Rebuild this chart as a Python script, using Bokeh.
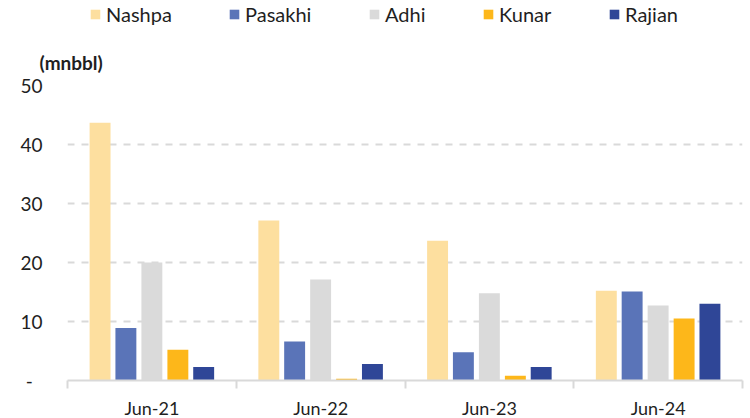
from bokeh.plotting import figure
from bokeh.layouts import column
from bokeh.models import (Range1d, FixedTicker, Legend, LegendItem, Title, ColumnDataSource)
from bokeh.embed import file_html
from bokeh.resources import INLINE

# ---- data ----
periods = ["Jun-21", "Jun-22", "Jun-23", "Jun-24"]
series = ["Nashpa", "Pasakhi", "Adhi", "Kunar", "Rajian"]
nashpa = [43.7, 27.1, 23.7, 15.2]
pasakhi = [8.9, 6.6, 4.8, 15.1]
adhi = [20.0, 17.1, 14.8, 12.7]
kunar = [5.2, 0.3, 0.8, 10.5]
rajian = [2.3, 2.8, 2.3, 13.0]
y_ticks = [0, 10, 20, 30, 40, 50]
unit = "(mnbbl)"

values = [nashpa, pasakhi, adhi, kunar, rajian]
colors = ["#FDDF9F", "#5A74B8", "#DADADA", "#FDB71A", "#2F4697"]
offsets = [-0.307, -0.154, 0.0, 0.154, 0.307]
bar_w = 0.124

FONT = "Lato"
TXT = "#1f1f1f"
HEAD_H = 36

# ---------- header (legend) ----------
h = figure(width=750, height=HEAD_H, x_range=Range1d(67, 742), y_range=Range1d(HEAD_H, 0),
           output_backend="svg", toolbar_location=None,
           x_axis_location=None, y_axis_location=None,
           min_border_left=67, min_border_right=8, min_border_top=0, min_border_bottom=0)
h.outline_line_color = None
h.grid.visible = False
h.border_fill_color = "white"
h.background_fill_color = "white"

leg_x = [89, 228, 368, 482, 608]
for name, col, lx in zip(series, colors, leg_x):
    # off-screen swatch holder for the legend entry
    rr = h.vbar(x=[-1000], top=[0], width=1, fill_color=col, line_color=None)
    lg = Legend(items=[LegendItem(label=name, renderers=[rr])], location=(lx - 67, HEAD_H - 26),
                orientation="horizontal", glyph_width=12, glyph_height=12,
                label_standoff=5, padding=0, margin=0, spacing=0,
                border_line_color=None, background_fill_alpha=0,
                label_text_font=FONT, label_text_font_size="20px",
                label_text_color=TXT, label_height=20)
    h.add_layout(lg, "center")

# ---------- main chart ----------
p = figure(frame_width=675, frame_height=295,
           x_range=Range1d(0, len(periods)), y_range=Range1d(0, 50),
           output_backend="svg", toolbar_location=None,
           min_border_left=67, min_border_right=8, min_border_top=0, min_border_bottom=37)
p.outline_line_color = None
p.background_fill_color = None
p.border_fill_color = "white"

for name, vals, col, off in zip(series, values, colors, offsets):
    src = ColumnDataSource(dict(x=[i + 0.5 + off for i in range(len(periods))], top=vals))
    p.vbar(x="x", top="top", width=bar_w, bottom=0, source=src,
           fill_color=col, line_color=None)

p.add_layout(Title(text=unit, align="left", offset=-28, text_font=FONT,
                   text_font_size="19px", text_font_style="bold",
                   text_color=TXT, standoff=24), "above")

# y axis
p.yaxis.ticker = FixedTicker(ticks=y_ticks)
p.yaxis.major_label_overrides = {0: "-\u00a0\u00a0"}
p.yaxis.axis_line_color = None
p.yaxis.major_tick_line_color = None
p.yaxis.minor_tick_line_color = None
p.yaxis.major_tick_out = 0
p.yaxis.major_label_standoff = 25
p.yaxis.major_label_text_font = FONT
p.yaxis.major_label_text_font_size = "19px"
p.yaxis.major_label_text_color = TXT

# x axis
p.xaxis.ticker = FixedTicker(ticks=[i + 0.5 for i in range(len(periods))],
                             minor_ticks=list(range(len(periods) + 1)))
p.xaxis.major_label_overrides = {i + 0.5: lab for i, lab in enumerate(periods)}
p.xaxis.axis_line_color = "#D9D9D9"
p.xaxis.axis_line_width = 2
p.xaxis.major_tick_line_color = None
p.xaxis.major_tick_out = 0
p.xaxis.major_tick_in = 0
p.xaxis.minor_tick_line_color = "#D9D9D9"
p.xaxis.minor_tick_line_width = 2
p.xaxis.minor_tick_out = 8
p.xaxis.minor_tick_in = 0
p.xaxis.major_label_standoff = 8
p.xaxis.major_label_text_font = FONT
p.xaxis.major_label_text_font_size = "18px"
p.xaxis.major_label_text_color = TXT

# grid
p.xgrid.grid_line_color = None
p.ygrid.ticker = FixedTicker(ticks=y_ticks[1:])
p.ygrid.grid_line_color = "#D9D9D9"
p.ygrid.grid_line_width = 2
p.ygrid.grid_line_dash = "7 7"

layout = column(h, p, spacing=0)
open("out.html", "w").write(file_html(layout, INLINE))
